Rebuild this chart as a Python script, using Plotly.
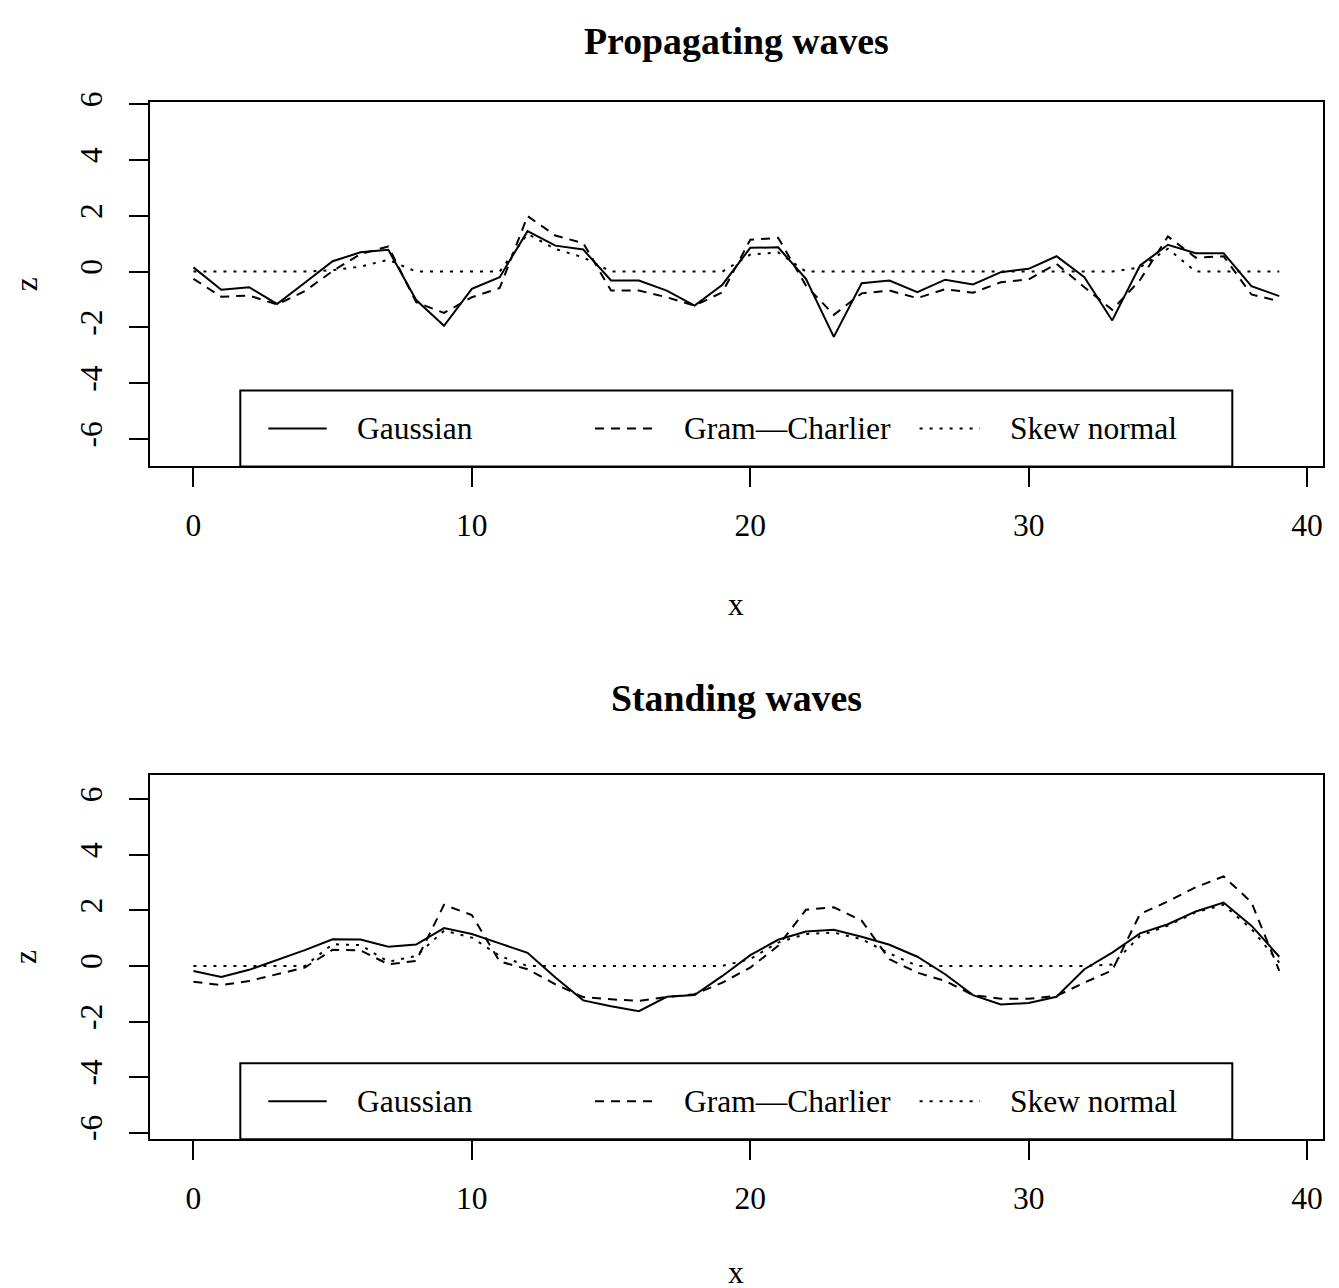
import plotly.graph_objects as go

# Reference picture geometry (pixels). The page places the figure with an offset,
# so reference pixel positions are converted to figure coordinates below.
W, H = 1339, 1288
OX = 8
OY, SY = 18.0, 0.9896
WF, HF = 1323, 1290

x_vals = list(range(40))

prop_gauss = [0.15, -0.65, -0.56, -1.16, -0.4, 0.37, 0.69, 0.78, -1.02, -1.94, -0.62, -0.2, 1.45,
              0.93, 0.79, -0.32, -0.32, -0.68, -1.22, -0.47, 0.85, 0.87, -0.26, -2.34, -0.42, -0.32, -0.74,
              -0.29, -0.46, -0.02, 0.1, 0.55, -0.2, -1.75, 0.22, 0.96, 0.66, 0.66, -0.52, -0.88]
prop_gc = [-0.26, -0.9, -0.86, -1.18, -0.7, 0.02, 0.63, 0.9, -1.1, -1.48, -0.92, -0.59, 1.99,
           1.29, 1.02, -0.68, -0.68, -0.92, -1.22, -0.74, 1.14, 1.21, -0.5, -1.55, -0.78, -0.68, -0.95,
           -0.63, -0.76, -0.38, -0.28, 0.28, -0.56, -1.37, -0.3, 1.26, 0.5, 0.55, -0.82, -1.06]
prop_skew = [0, 0, 0, 0, 0, 0.05, 0.18, 0.42, 0, 0, 0, 0, 1.35,
             0.81, 0.51, 0, 0, 0, 0, 0, 0.61, 0.69, 0, 0, 0, 0, 0,
             0, 0, 0, 0, 0, 0, 0, 0.15, 0.82, 0, 0, 0, 0]

stand_gauss = [-0.18, -0.4, -0.14, 0.22, 0.57, 0.96, 0.95, 0.69, 0.77, 1.36, 1.15, 0.81, 0.47,
               -0.42, -1.24, -1.45, -1.63, -1.11, -1.05, -0.36, 0.39, 0.94, 1.24, 1.3, 1.05, 0.76, 0.33,
               -0.3, -1.05, -1.39, -1.33, -1.11, -0.12, 0.48, 1.17, 1.5, 1.96, 2.28, 1.45, 0.33]
stand_gc = [-0.57, -0.69, -0.54, -0.3, -0.06, 0.58, 0.56, 0.06, 0.18, 2.2, 1.83, 0.16, -0.12,
            -0.66, -1.12, -1.2, -1.26, -1.12, -1.02, -0.6, -0.06, 0.72, 2.02, 2.11, 1.63, 0.24, -0.24,
            -0.54, -1.05, -1.18, -1.18, -1.08, -0.6, -0.16, 1.87, 2.32, 2.83, 3.22, 2.29, -0.18]
stand_skew = [0, 0, 0, 0, 0, 0.78, 0.75, 0.15, 0.36, 1.27, 1.02, 0.36, 0,
              0, 0, 0, 0, 0, 0, 0, 0.25, 0.84, 1.15, 1.2, 0.96, 0.45, 0,
              0, 0, 0, 0, 0, 0, 0.05, 1.08, 1.45, 1.93, 2.2, 1.33, 0.12]

series_names = ["Gaussian", "Gram\u2014Charlier", "Skew normal"]
panel_titles = ["Propagating waves", "Standing waves"]
x_ticks = [0, 10, 20, 30, 40]
y_ticks = [-6, -4, -2, 0, 2, 4, 6]

FONT = "Liberation Serif, Times New Roman, serif"
FS = 31.5
DASHES = ["solid", "9px,7px", "3px,7px"]
LW = 2


def px(x):
    return (x - OX) / WF


def py(y):
    return min(1.0, 1 - ((y - OY) / SY) / HF)


fig = go.Figure()

panels = [
    dict(data=[prop_gauss, prop_gc, prop_skew], xa="x", ya="y", top=101.7, bottom=466.0,
         yrange=[-6.984, 6.084], xlab=604),
    dict(data=[stand_gauss, stand_gc, stand_skew], xa="x2", ya="y2", top=773.7, bottom=1138.0,
         yrange=[-6.236, 6.886], xlab=1271),
]

box_left, box_right = 150.0, 1322.7

for i, p in enumerate(panels):
    for name, ys, dash in zip(series_names, p["data"], DASHES):
        fig.add_trace(go.Scatter(x=x_vals, y=ys, mode="lines", name=name,
                                 line=dict(color="black", width=LW, dash=dash),
                                 xaxis=p["xa"], yaxis=p["ya"], showlegend=False))

    sfx = "" if i == 0 else "2"
    axis_common = dict(showgrid=False, zeroline=False, showline=True, mirror=True,
                       linecolor="black", linewidth=2, ticks="outside", ticklen=19,
                       tickwidth=2, tickcolor="black",
                       tickfont=dict(family=FONT, size=FS, color="black"))
    fig.layout["xaxis" + sfx] = dict(axis_common, domain=[px(box_left), px(box_right)],
                                     range=[-1.56, 40.56], tickvals=x_ticks,
                                     ticktext=[str(v) for v in x_ticks],
                                     anchor="y" + sfx, ticklabelstandoff=11)
    fig.layout["yaxis" + sfx] = dict(axis_common, domain=[py(p["bottom"]), py(p["top"])],
                                     range=p["yrange"], tickvals=y_ticks,
                                     ticktext=[str(v) for v in y_ticks], tickangle=-90,
                                     anchor="x" + sfx, ticklabelstandoff=14)

    off = p["top"] - 101.7
    if i == 0:
        # keep the top title fully inside the figure
        fig.add_annotation(x=px((box_left + box_right) / 2), y=1.0, xref="paper", yref="paper",
                           text="<b>" + panel_titles[i] + "</b>", showarrow=False,
                           font=dict(family=FONT, size=FS * 1.2, color="black"),
                           xanchor="center", yanchor="top")
    else:
        fig.add_annotation(x=px((box_left + box_right) / 2), y=py(25 + off), xref="paper", yref="paper",
                           text="<b>" + panel_titles[i] + "</b>", showarrow=False,
                           font=dict(family=FONT, size=FS * 1.2, color="black"),
                           xanchor="center", yanchor="middle")
    fig.add_annotation(x=px((box_left + box_right) / 2), y=py(p["xlab"]), xref="paper", yref="paper",
                       text="x", showarrow=False, font=dict(family=FONT, size=FS, color="black"),
                       xanchor="center", yanchor="middle")
    fig.add_annotation(x=px(26), y=py((p["top"] + p["bottom"]) / 2), xref="paper", yref="paper",
                       text="z", showarrow=False, textangle=-90,
                       font=dict(family=FONT, size=FS, color="black"),
                       xanchor="center", yanchor="middle")

    # legend box (drawn like R's legend, anchored at the bottom of the plot box)
    lg_top, lg_bot = 390 + off, p["bottom"]
    fig.add_shape(type="rect", xref="paper", yref="paper", x0=px(240.3), x1=px(1232.3),
                  y0=py(lg_bot), y1=py(lg_top), line=dict(color="black", width=2),
                  fillcolor="white", layer="above")
    cy = (lg_top + lg_bot) / 2
    keys = [(268.3, 326.7, 355.0), (595.0, 652.0, 681.7), (919.6, 980.0, 1008.0)]
    for (k0, k1, tx), name, dash in zip(keys, series_names, DASHES):
        fig.add_shape(type="line", xref="paper", yref="paper", x0=px(k0), x1=px(k1),
                      y0=py(cy), y1=py(cy), line=dict(color="black", width=LW, dash=dash),
                      layer="above")
        fig.add_annotation(x=px(tx), y=py(cy), xref="paper", yref="paper", text=name,
                           showarrow=False, font=dict(family=FONT, size=FS, color="black"),
                           xanchor="left", yanchor="middle")

fig.update_layout(width=WF, height=HF, margin=dict(l=0, r=0, t=0, b=0),
                  paper_bgcolor="white", plot_bgcolor="white", showlegend=False,
                  font=dict(family=FONT, color="black"))

fig.write_html("out.html")
